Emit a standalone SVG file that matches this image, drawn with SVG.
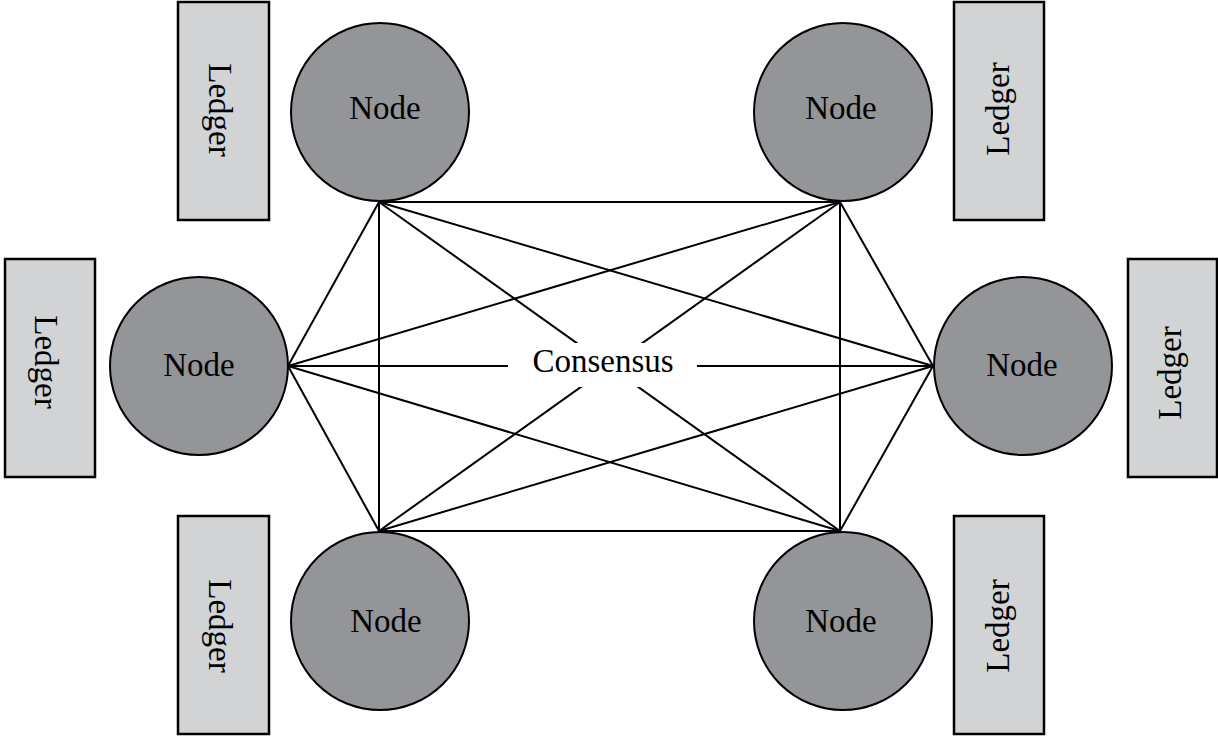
<svg xmlns="http://www.w3.org/2000/svg" width="1218" height="738" viewBox="0 0 1218 738">
  <style>
    .edge { stroke: #000; stroke-width: 2; fill: none; }
    .node circle { fill: #939598; stroke: #000; stroke-width: 2; }
    .ledger rect { fill: #d1d3d4; stroke: #000; stroke-width: 2.5; }
    text { font-family: "Liberation Serif", "Times New Roman", serif; font-size: 33px; fill: #000; text-anchor: middle; }
  </style>
  <rect width="1218" height="738" fill="#fff"/>
  <g id="connectors">
    <line class="edge" x1="379" y1="202" x2="840" y2="202"/>
    <line class="edge" x1="379" y1="202" x2="288" y2="366"/>
    <line class="edge" x1="379" y1="202" x2="933" y2="366"/>
    <line class="edge" x1="379" y1="202" x2="379" y2="531"/>
    <line class="edge" x1="379" y1="202" x2="840" y2="531"/>
    <line class="edge" x1="840" y1="202" x2="288" y2="366"/>
    <line class="edge" x1="840" y1="202" x2="933" y2="366"/>
    <line class="edge" x1="840" y1="202" x2="379" y2="531"/>
    <line class="edge" x1="840" y1="202" x2="840" y2="531"/>
    <line class="edge" x1="288" y1="366" x2="933" y2="366"/>
    <line class="edge" x1="288" y1="366" x2="379" y2="531"/>
    <line class="edge" x1="288" y1="366" x2="840" y2="531"/>
    <line class="edge" x1="933" y1="366" x2="379" y2="531"/>
    <line class="edge" x1="933" y1="366" x2="840" y2="531"/>
    <line class="edge" x1="379" y1="531" x2="840" y2="531"/>
  </g>
  <g id="consensus">
    <rect x="508" y="343" width="189" height="44" fill="#fff"/>
    <text x="603" y="372">Consensus</text>
  </g>
  <g id="node-tl" class="node">
    <circle cx="380" cy="112" r="89"/>
    <text x="385" y="119">Node</text>
  </g>
  <g id="node-tr" class="node">
    <circle cx="843" cy="112" r="89"/>
    <text x="841" y="119">Node</text>
  </g>
  <g id="node-ml" class="node">
    <circle cx="199" cy="366" r="89"/>
    <text x="199" y="376">Node</text>
  </g>
  <g id="node-mr" class="node">
    <circle cx="1023" cy="366" r="89"/>
    <text x="1022" y="376">Node</text>
  </g>
  <g id="node-bl" class="node">
    <circle cx="380" cy="621" r="89"/>
    <text x="386" y="632">Node</text>
  </g>
  <g id="node-br" class="node">
    <circle cx="843" cy="621" r="89"/>
    <text x="841" y="632">Node</text>
  </g>
  <g id="ledger-tl" class="ledger">
    <rect x="178" y="2" width="91" height="218"/>
    <text transform="translate(209,110) rotate(90)">Ledger</text>
  </g>
  <g id="ledger-tr" class="ledger">
    <rect x="954" y="2" width="90" height="218"/>
    <text transform="translate(1009,109) rotate(-90)">Ledger</text>
  </g>
  <g id="ledger-ml" class="ledger">
    <rect x="5" y="259" width="90" height="218"/>
    <text transform="translate(35,362) rotate(90)">Ledger</text>
  </g>
  <g id="ledger-mr" class="ledger">
    <rect x="1128" y="259" width="89" height="218"/>
    <text transform="translate(1181,373) rotate(-90)">Ledger</text>
  </g>
  <g id="ledger-bl" class="ledger">
    <rect x="178" y="516" width="91" height="218"/>
    <text transform="translate(209,626) rotate(90)">Ledger</text>
  </g>
  <g id="ledger-br" class="ledger">
    <rect x="954" y="516" width="90" height="218"/>
    <text transform="translate(1009,626) rotate(-90)">Ledger</text>
  </g>
</svg>
